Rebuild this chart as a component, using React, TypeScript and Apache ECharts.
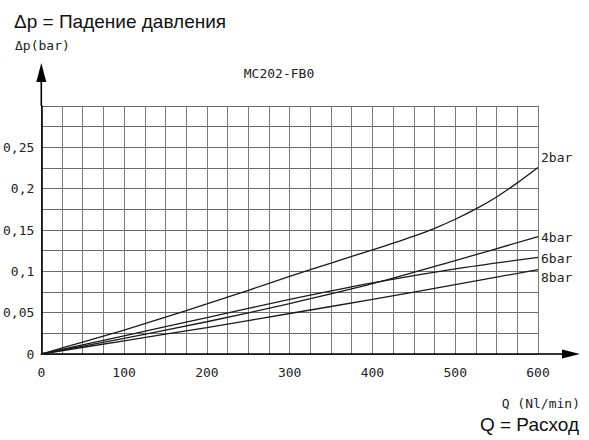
import React, { useEffect, useRef } from "react";
import * as echarts from "echarts";

// Flow Q (Nl/min) sample points
const flowFine = [0, 50, 100, 150, 200, 250, 300, 350, 400, 425, 450, 475, 500, 525, 550, 575, 600];
const flowCoarse = [0, 100, 200, 300, 400, 500, 600];

// Pressure drop Δp (bar)
const drop2bar = [0, 0.0145, 0.029, 0.0445, 0.0605, 0.077, 0.094, 0.11, 0.126, 0.134, 0.1425, 0.152, 0.163, 0.1755, 0.19, 0.207, 0.2256];
const drop4bar = [0, 0.019, 0.039, 0.061, 0.085, 0.113, 0.142];
const drop6bar = [0, 0.022, 0.044, 0.066, 0.086, 0.103, 0.117];
const drop8bar = [0, 0.016, 0.032, 0.049, 0.066, 0.084, 0.102];

const seriesNames = ["2bar", "4bar", "6bar", "8bar"];
const labelOffsets = [[0, -10], [0, 1], [0, 1], [0, 8]];

const titleText = "Δp = Падение давления";
const yAxisTitle = "Δp(bar)";
const modelName = "MC202-FB0";
const xAxisTitle = "Q (Nl/min)";
const footText = "Q = Расход";

const MONO = "'DejaVu Sans Mono', monospace";
const SANS = "'Liberation Sans', Arial, sans-serif";

function pairs(xs: number[], ys: number[]) {
  return xs.map((x, i) => [x, ys[i]]);
}

export default function App() {
  const ref = useRef<HTMLDivElement>(null);
  useEffect(() => {
    if (!ref.current) return;
    const chart = echarts.init(ref.current, null, { renderer: "svg" });
    const data = [
      pairs(flowFine, drop2bar),
      pairs(flowCoarse, drop4bar),
      pairs(flowCoarse, drop6bar),
      pairs(flowCoarse, drop8bar),
    ];
    chart.setOption({
      animation: false,
      grid: { left: 40, right: 51, top: 106, bottom: 86, containLabel: false },
      xAxis: {
        type: "value",
        min: 0,
        max: 600,
        interval: 25,
        axisLine: { show: true, lineStyle: { color: "#000", width: 1.6 } },
        axisTick: { show: false },
        axisLabel: {
          margin: 12,
          color: "#222",
          fontFamily: MONO,
          fontSize: 13,
          formatter: (v: number) => (Math.round(v) % 100 === 0 ? String(Math.round(v)) : ""),
        },
        splitLine: { show: true, lineStyle: { color: "#7a7a7a", width: 1 } },
      },
      yAxis: {
        type: "value",
        min: 0,
        max: 0.3,
        interval: 0.025,
        axisLine: { show: true, onZero: false, lineStyle: { color: "#000", width: 1.6 } },
        axisTick: { show: false },
        axisLabel: {
          margin: 7,
          color: "#222",
          fontFamily: MONO,
          fontSize: 13,
          formatter: (v: number) => {
            const k = Math.round(v * 1000);
            if (k % 50 !== 0 || k >= 300) return "";
            return String(k / 1000).replace(".", ",");
          },
        },
        splitLine: { show: true, lineStyle: { color: "#6a6a6a", width: 1 } },
      },
      series: data.map((d, i) => ({
        type: "line",
        name: seriesNames[i],
        data: d,
        smooth: 0.3,
        showSymbol: false,
        symbol: "none",
        z: 5,
        lineStyle: { color: "#1a1a1a", width: 1.3 },
        endLabel: {
          show: true,
          formatter: seriesNames[i],
          distance: 3,
          offset: labelOffsets[i],
          color: "#222",
          fontFamily: MONO,
          fontSize: 13,
        },
      })),
    });

    const o = chart.convertToPixel({ gridIndex: 0 }, [0, 0]) as number[];
    const xe = chart.convertToPixel({ gridIndex: 0 }, [600, 0]) as number[];
    const yt = chart.convertToPixel({ gridIndex: 0 }, [0, 0.3]) as number[];
    const xTip = xe[0] + 42;
    const yTip = yt[1] - 43;
    chart.setOption({
      graphic: [
        { type: "line", shape: { x1: xe[0], y1: o[1], x2: xTip - 10, y2: o[1] }, style: { stroke: "#000", lineWidth: 1.6 } },
        { type: "polygon", shape: { points: [[xTip - 18, o[1] - 4.5], [xTip, o[1]], [xTip - 18, o[1] + 4.5]] }, style: { fill: "#000" } },
        { type: "line", shape: { x1: o[0], y1: yt[1], x2: o[0], y2: yTip + 10 }, style: { stroke: "#000", lineWidth: 1.6 } },
        { type: "polygon", shape: { points: [[o[0] - 5, yTip + 19], [o[0], yTip], [o[0] + 5, yTip + 19]] }, style: { fill: "#000" } },
        { type: "text", x: 14, y: 21, style: { text: titleText, font: `19px ${SANS}`, fill: "#111", textAlign: "left", textVerticalAlign: "middle" } },
        { type: "text", x: 15, y: 45, style: { text: yAxisTitle, font: `13px ${MONO}`, fill: "#222", textAlign: "left", textVerticalAlign: "middle" } },
        { type: "text", x: 279, y: 73, style: { text: modelName, font: `13px ${MONO}`, fill: "#222", textAlign: "center", textVerticalAlign: "middle" } },
        { type: "text", x: 580, y: 403, style: { text: xAxisTitle, font: `13px ${MONO}`, fill: "#222", textAlign: "right", textVerticalAlign: "middle" } },
        { type: "text", x: 579, y: 424, style: { text: footText, font: `19px ${SANS}`, fill: "#111", textAlign: "right", textVerticalAlign: "middle" } },
      ],
    });
    return () => chart.dispose();
  }, []);
  return <div ref={ref} style={{ position: "absolute", left: 0, top: 0, width: 589, height: 440 }} />;
}
